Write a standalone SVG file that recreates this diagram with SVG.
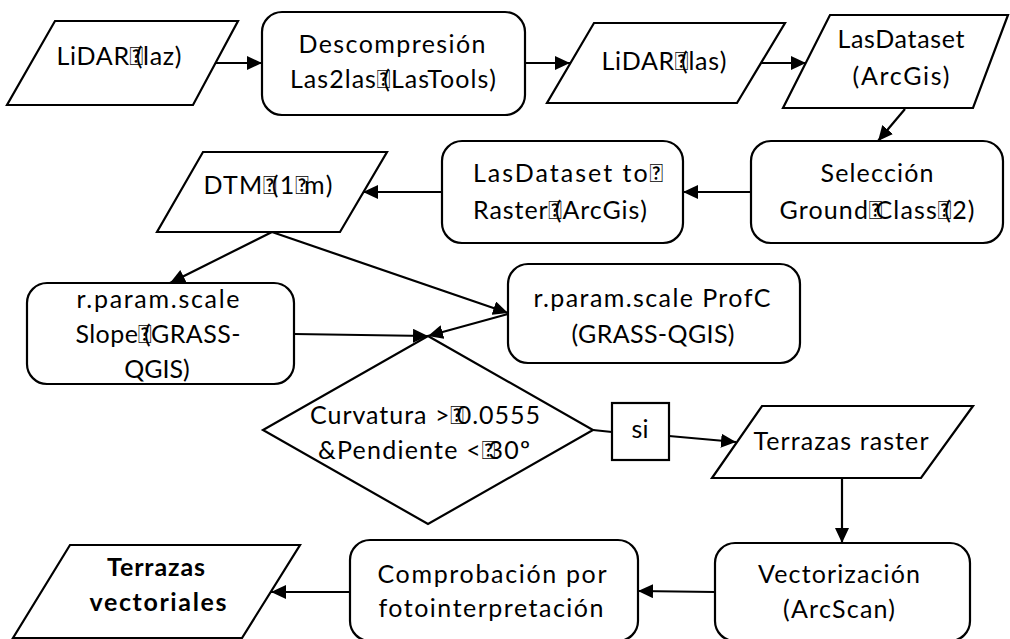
<svg xmlns="http://www.w3.org/2000/svg" width="1010" height="639" viewBox="0 0 1010 639">
<defs>
<marker id="arr" markerUnits="userSpaceOnUse" markerWidth="16" markerHeight="14" refX="15" refY="7" orient="auto">
<path d="M0,0 L15,7 L0,14 Z" fill="#000"/>
</marker>
<style>
.s{fill:#fff;stroke:#000;stroke-width:2.2;stroke-linejoin:miter}
.t{font-family:Lato,"Open Sans","Liberation Sans",sans-serif;font-size:25px;fill:#000;text-anchor:middle}
.b{font-weight:bold}
.c{fill:none;stroke:#000;stroke-width:2.2}
</style>
</defs>
<rect width="1010" height="639" fill="#fff"/>
<g id="connectors">
<line class="c" x1="216" y1="63" x2="262" y2="63" marker-end="url(#arr)"/>
<line class="c" x1="525" y1="63" x2="570" y2="63" marker-end="url(#arr)"/>
<line class="c" x1="761" y1="63" x2="806" y2="63" marker-end="url(#arr)"/>
<line class="c" x1="905" y1="109" x2="878" y2="141" marker-end="url(#arr)"/>
<line class="c" x1="751" y1="192" x2="683" y2="192" marker-end="url(#arr)"/>
<line class="c" x1="442" y1="192" x2="363" y2="192" marker-end="url(#arr)"/>
<line class="c" x1="272" y1="232" x2="170" y2="283" marker-end="url(#arr)"/>
<line class="c" x1="272" y1="232" x2="508" y2="313" marker-end="url(#arr)"/>
<line class="c" x1="294" y1="334" x2="428" y2="336" marker-end="url(#arr)"/>
<line class="c" x1="508" y1="314" x2="428" y2="336" marker-end="url(#arr)"/>
<line class="c" x1="593" y1="430" x2="612" y2="432"/>
<line class="c" x1="669" y1="436" x2="736" y2="442" marker-end="url(#arr)"/>
<line class="c" x1="842" y1="478" x2="842" y2="543" marker-end="url(#arr)"/>
<line class="c" x1="715" y1="592" x2="638" y2="591" marker-end="url(#arr)"/>
<line class="c" x1="350" y1="592" x2="271" y2="592" marker-end="url(#arr)"/>
</g>
<g id="n1">
<polygon class="s" points="55,21 238,21 193,105 7,105"/>
<text class="t" x="119" y="65" textLength="125" lengthAdjust="spacing">LiDAR&#xF020;<tspan dx="-8">(</tspan>laz)</text>
</g>
<g id="n2">
<rect class="s" x="262" y="12" width="263" height="103" rx="20"/>
<text class="t" x="392" y="53" textLength="187" lengthAdjust="spacing">Descompresión</text>
<text class="t" x="393" y="88" textLength="206" lengthAdjust="spacing">Las2las&#xF020;<tspan dx="-8">(</tspan>LasTools)</text>
</g>
<g id="n3">
<polygon class="s" points="594,23 785,23 737,103 547,103"/>
<text class="t" x="664" y="70" textLength="125" lengthAdjust="spacing">LiDAR&#xF020;<tspan dx="-8">(</tspan>las)</text>
</g>
<g id="n4">
<polygon class="s" points="830,15 1008,15 973,108 783,108"/>
<text class="t" x="901" y="48" textLength="127" lengthAdjust="spacing">LasDataset</text>
<text class="t" x="901" y="85" textLength="97" lengthAdjust="spacing">(ArcGis)</text>
</g>
<g id="n5">
<rect class="s" x="751" y="141" width="252" height="102" rx="20"/>
<text class="t" x="877" y="182" textLength="113" lengthAdjust="spacing">Selección</text>
<text class="t" x="877" y="219" textLength="195" lengthAdjust="spacing">Ground&#xF020;<tspan dx="-8">C</tspan>lass&#xF020;<tspan dx="-8">(</tspan>2)</text>
</g>
<g id="n6">
<rect class="s" x="442" y="141" width="241" height="102" rx="20"/>
<text class="t" x="568" y="182" textLength="190" lengthAdjust="spacing">LasDataset to&#xF020;</text>
<text class="t" x="560" y="219" textLength="174" lengthAdjust="spacing">Raster&#xF020;<tspan dx="-8">(</tspan>ArcGis)</text>
</g>
<g id="n7">
<polygon class="s" points="203,152 387,152 340,232 157,232"/>
<text class="t" x="268" y="194" textLength="129" lengthAdjust="spacing">DTM&#xF020;<tspan dx="-6">(</tspan>1&#xF020;<tspan dx="-6">m</tspan>)</text>
</g>
<g id="n8">
<rect class="s" x="27" y="283" width="267" height="101" rx="20"/>
<text class="t" x="158" y="308" textLength="163" lengthAdjust="spacing">r.param.scale</text>
<text class="t" x="158" y="343" textLength="165" lengthAdjust="spacing">Slope&#xF020;<tspan dx="-8">(</tspan>GRASS-</text>
<text class="t" x="157" y="378">QGIS)</text>
</g>
<g id="n9">
<rect class="s" x="508" y="264" width="292" height="99" rx="20"/>
<text class="t" x="652" y="307" textLength="237" lengthAdjust="spacing">r.param.scale ProfC</text>
<text class="t" x="653" y="343" textLength="163" lengthAdjust="spacing">(GRASS-QGIS)</text>
</g>
<g id="n10">
<polygon class="s" points="428,336 593,430 428,524 263,430"/>
<text class="t" x="425" y="424" textLength="230" lengthAdjust="spacing">Curvatura &gt;&#xF020;<tspan dx="-8">0</tspan>.0555</text>
<text class="t" x="424" y="459" textLength="212" lengthAdjust="spacing">&amp;Pendiente &lt;&#xF020;<tspan dx="-8">3</tspan>0º</text>
</g>
<g id="n11">
<rect class="s" x="612" y="403" width="57" height="57" rx="0"/>
<text class="t" x="640" y="438">si</text>
</g>
<g id="n12">
<polygon class="s" points="762,406 973,406 921,478 712,478"/>
<text class="t" x="841" y="450" textLength="175" lengthAdjust="spacing">Terrazas raster</text>
</g>
<g id="n13">
<rect class="s" x="715" y="543" width="255" height="98" rx="20"/>
<text class="t" x="839" y="583" textLength="162" lengthAdjust="spacing">Vectorización</text>
<text class="t" x="839" y="618" textLength="112" lengthAdjust="spacing">(ArcScan)</text>
</g>
<g id="n14">
<rect class="s" x="350" y="540" width="288" height="101" rx="20"/>
<text class="t" x="492" y="583" textLength="229" lengthAdjust="spacing">Comprobación por</text>
<text class="t" x="491" y="617" textLength="225" lengthAdjust="spacing">fotointerpretación</text>
</g>
<g id="n15">
<polygon class="s" points="70,545 300,545 242,638 13,638"/>
<text class="t b" x="156" y="576" textLength="98" lengthAdjust="spacing">Terrazas</text>
<text class="t b" x="158" y="611" textLength="137" lengthAdjust="spacing">vectoriales</text>
</g>
</svg>
